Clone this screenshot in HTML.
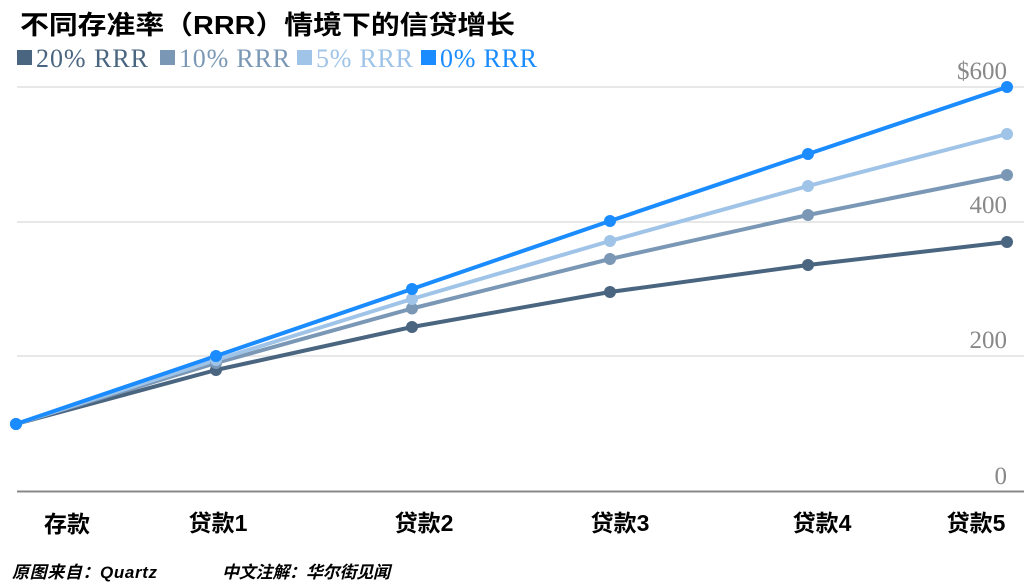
<!DOCTYPE html>
<html><head><meta charset="utf-8"><style>
html,body{margin:0;padding:0;background:#fff;width:1024px;height:587px;overflow:hidden}
svg{display:block}
.cj{font-family:"Liberation Sans","Noto Sans CJK SC",sans-serif;font-weight:bold}
.sf{font-family:"Liberation Serif","DejaVu Serif",serif}
</style></head><body>
<svg width="1024" height="587" viewBox="0 0 1024 587">
<text x="20" y="34" class="cj" font-size="26" fill="#000" textLength="495" lengthAdjust="spacingAndGlyphs">不同存准率（RRR）情境下的信贷增长</text>
<g class="sf" font-size="26">
<rect x="17" y="50" width="15" height="15" fill="#4a6580"/><text x="36" y="67" fill="#4a6580" textLength="112">20% RRR</text>
<rect x="160" y="50" width="15" height="15" fill="#7a98b5"/><text x="179" y="67" fill="#7a98b5" textLength="111">10% RRR</text>
<rect x="297" y="50" width="15" height="15" fill="#9fc4e8"/><text x="316" y="67" fill="#9fc4e8" textLength="97">5% RRR</text>
<rect x="421" y="50" width="15" height="15" fill="#1a8cff"/><text x="440" y="67" fill="#1a8cff" textLength="97">0% RRR</text>
</g>
<g stroke="#e0e0e0" stroke-width="1.5">
<line x1="17" y1="87" x2="1024" y2="87"/><line x1="17" y1="222" x2="1024" y2="222"/><line x1="17" y1="356" x2="1024" y2="356"/>
</g>
<line x1="17" y1="491.5" x2="1024" y2="491.5" stroke="#888" stroke-width="2"/>
<g class="sf" font-size="25" fill="#888" text-anchor="end">
<text x="1007" y="79">$600</text><text x="1007" y="213">400</text><text x="1007" y="348">200</text><text x="1007" y="484">0</text>
</g>
<g fill="none" stroke-width="4" stroke-linejoin="round">
<polyline stroke="#4a6580" points="16,424 216,370 412,327 610,292 808,265 1007,242"/>
<polyline stroke="#7a98b5" points="16,424 216,363 412,308.5 610,259 808,215 1007,175"/>
<polyline stroke="#9fc4e8" points="16,424 216,360 412,299 610,241 808,186 1007,134"/>
<polyline stroke="#1a8cff" points="16,424 216,356 412,289 610,221 808,154 1007,87"/>
</g>
<g fill="#4a6580"><circle cx="16" cy="424" r="6"/><circle cx="216" cy="370" r="6"/><circle cx="412" cy="327" r="6"/><circle cx="610" cy="292" r="6"/><circle cx="808" cy="265" r="6"/><circle cx="1007" cy="242" r="6"/></g>
<g fill="#7a98b5"><circle cx="216" cy="363" r="6"/><circle cx="412" cy="308.5" r="6"/><circle cx="610" cy="259" r="6"/><circle cx="808" cy="215" r="6"/><circle cx="1007" cy="175" r="6"/></g>
<g fill="#9fc4e8"><circle cx="216" cy="360" r="6"/><circle cx="412" cy="299" r="6"/><circle cx="610" cy="241" r="6"/><circle cx="808" cy="186" r="6"/><circle cx="1007" cy="134" r="6"/></g>
<g fill="#1a8cff"><circle cx="16" cy="424" r="6"/><circle cx="216" cy="356" r="6"/><circle cx="412" cy="289" r="6"/><circle cx="610" cy="221" r="6"/><circle cx="808" cy="154" r="6"/><circle cx="1007" cy="87" r="6"/></g>
<g class="cj" font-size="23" fill="#000" text-anchor="middle">
<text x="67" y="532">存款</text><text x="218" y="531">贷款1</text><text x="424" y="531">贷款2</text><text x="620" y="531">贷款3</text><text x="822" y="531">贷款4</text><text x="976" y="531">贷款5</text>
</g>
<g class="cj" font-size="17" fill="#000" font-style="italic">
<text x="12" y="578" textLength="145">原图来自：Quartz</text><text x="222" y="578" textLength="168">中文注解：华尔街见闻</text>
</g>
</svg>
</body></html>
